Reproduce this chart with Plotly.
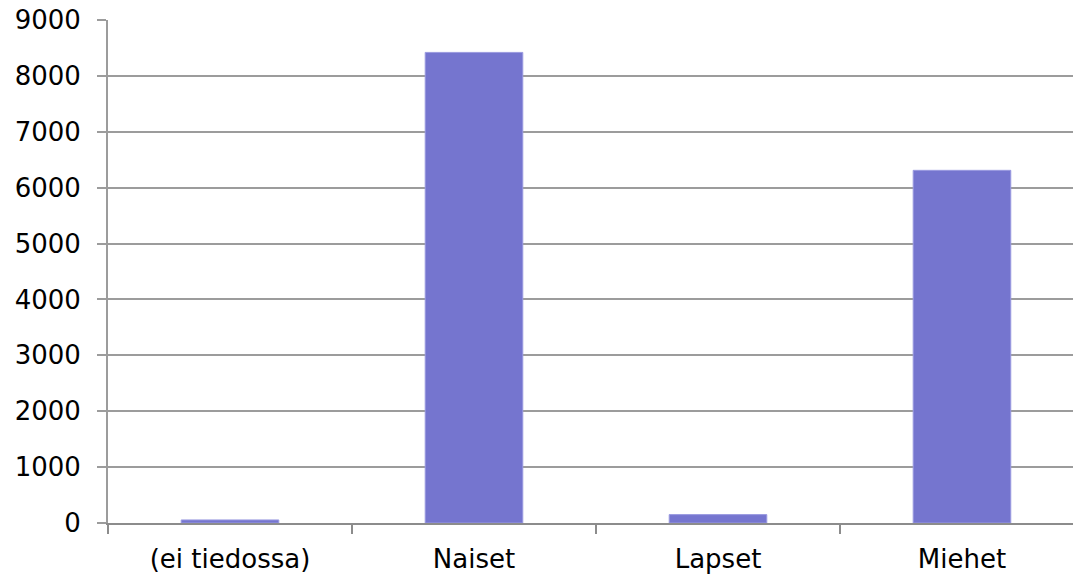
import plotly.graph_objects as go

categories = ["(ei tiedossa)", "Naiset", "Lapset", "Miehet"]
values = [55, 8420, 150, 6310]
y_ticks = [0, 1000, 2000, 3000, 4000, 5000, 6000, 7000, 8000, 9000]

fig = go.Figure(go.Bar(
    x=categories, y=values,
    marker=dict(color="#7575cf", line=dict(color="#9a9ae0", width=1)),
))

font = dict(family="DejaVu Sans, Verdana, sans-serif", size=26, color="#000000")
fig.update_layout(
    width=1073, height=576,
    margin=dict(l=108, r=0, t=20, b=53, autoexpand=False),
    paper_bgcolor="white", plot_bgcolor="white",
    bargap=0.6, showlegend=False, font=font,
)
fig.update_xaxes(
    type="category", range=[-0.5, 3.455], automargin=False,
    showline=True, linecolor="#8c8c8c", linewidth=2,
    ticks="outside", tickson="boundaries", ticklen=9, tickwidth=2, tickcolor="#8c8c8c",
    showgrid=False, ticklabelstandoff=12,
)
fig.update_yaxes(
    range=[0, 9000], tickvals=y_ticks, automargin=False,
    showline=True, linecolor="#9c9c9c", linewidth=2,
    ticks="outside", ticklen=9, tickwidth=2, tickcolor="#9c9c9c",
    showgrid=True, gridcolor="#9c9c9c", gridwidth=2,
    zeroline=False, ticklabelstandoff=11, ticklabeloverflow="allow",
)
fig.write_html(
    "out.html",
    config={"displayModeBar": False},
    post_script="document.body.style.margin='0';document.body.style.overflow='hidden';",
)
